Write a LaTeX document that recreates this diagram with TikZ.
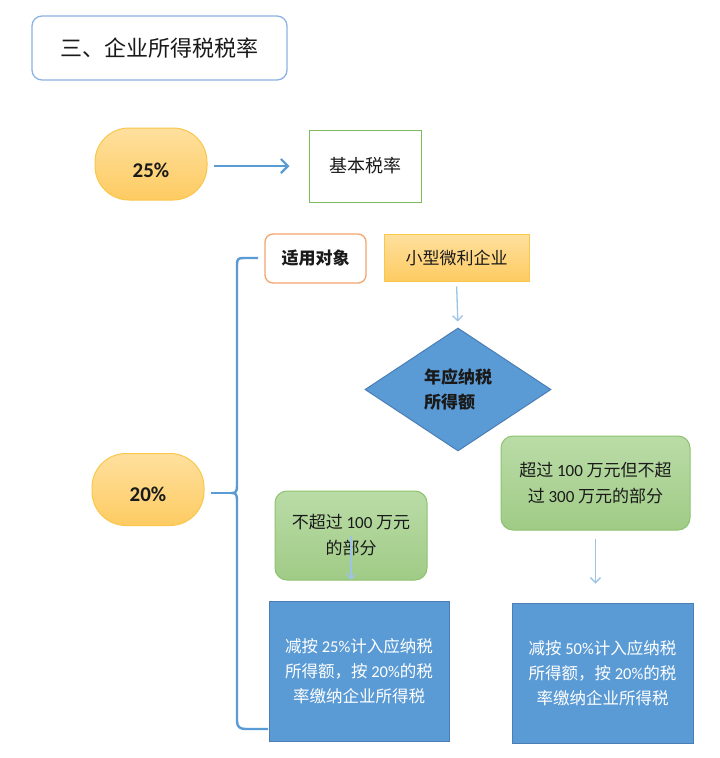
\documentclass[tikz,border=0pt]{standalone}
\usepackage{fontspec}
\setmainfont{Noto Sans CJK SC}
\newfontfamily\lat{Carlito}
\usetikzlibrary{shapes.geometric,arrows.meta}
\definecolor{lineblue}{HTML}{5B9BD5}
\definecolor{lightarrow}{HTML}{9DC3E6}
\definecolor{titleborder}{HTML}{8DB3E2}
\definecolor{pilltop}{HTML}{FFE09E}
\definecolor{pillbot}{HTML}{FDCB62}
\definecolor{pillborder}{HTML}{F9C74A}
\definecolor{basicborder}{HTML}{7FBA5A}
\definecolor{orangeborder}{HTML}{F4A46E}
\definecolor{greentop}{HTML}{BADCA7}
\definecolor{greenbot}{HTML}{A0CB86}
\definecolor{greenborder}{HTML}{8DC26F}
\definecolor{bluefill}{HTML}{5B9BD5}
\definecolor{blueborder}{HTML}{4A7EB5}
\definecolor{textdark}{HTML}{1A1A1A}
\newcommand{\lowertext}[2]{\raisebox{-#1}[\height][\depth]{#2}}
\tikzset{
  every node/.style={inner sep=0pt, text=textdark},
  titlebox/.style={draw=titleborder, line width=1.3pt, rounded corners=10pt, fill=white,
    minimum width=255pt, minimum height=64pt, font=\fontsize{22}{26}\selectfont},
  pill/.style={draw=pillborder, line width=1pt, rounded corners=34pt, top color=pilltop, bottom color=pillbot,
    minimum width=112pt, minimum height=72pt, font=\lat\bfseries\fontsize{21}{24}\selectfont},
  basicbox/.style={draw=basicborder, line width=1pt, fill=white, minimum width=112pt, minimum height=72pt,
    font=\fontsize{18}{22}\selectfont},
  targetbox/.style={draw=orangeborder, line width=1.3pt, rounded corners=8pt, fill=white,
    minimum width=101pt, minimum height=49pt, font=\bfseries\fontsize{17}{20}\selectfont},
  yellowbox/.style={draw=pillborder, line width=1pt, top color=pilltop, bottom color=pillbot,
    minimum width=145pt, minimum height=47pt, font=\fontsize{17}{20}\selectfont},
  decision/.style={diamond, draw=blueborder, line width=1pt, fill=bluefill, aspect=1.51,
    minimum width=186pt, minimum height=123pt, align=left, font=\bfseries\fontsize{17}{25}\selectfont},
  greenbox/.style={draw=greenborder, line width=1pt, rounded corners=12pt, top color=greentop, bottom color=greenbot,
    align=center, font=\fontsize{17}{26}\selectfont},
  resultbox/.style={draw=blueborder, line width=1pt, fill=bluefill, text=white, align=center,
    minimum width=180pt, minimum height=140pt, font=\fontsize{16.5}{25}\selectfont},
  mainarrow/.style={draw=lineblue, line width=2.2pt, -{Straight Barb[length=7pt,width=14pt,line width=2.2pt]}},
  thinarrow/.style={draw=lightarrow, line width=1.3pt, -{Straight Barb[length=5pt,width=10pt,line width=1.3pt]}},
  bracestyle/.style={draw=lineblue, line width=2.4pt}
}
\begin{document}
\begin{tikzpicture}[x=1pt,y=-1pt]
\useasboundingbox[fill=white] (0,0) rectangle (720,758);
\node[titlebox] (title) at (159.5,48) {三、企业所得税税率};
\node[pill] (p25) at (151,164) {\lowertext{6pt}{25\%}};
\node[basicbox] (basic) at (365,166) {基本税率};
\node[pill] (p20) at (148,489.5) {\lowertext{5pt}{20\%}};
\node[targetbox] (target) at (315.5,258.5) {适用对象};
\node[yellowbox] (small) at (456.5,257.5) {小型微利企业};
\node[decision] (dec) at (458,389.5) {年应纳税\\所得额};
\node[greenbox, minimum width=189pt, minimum height=94pt] (gr) at (595.5,483) {超过 {\lat 100} 万元但不超\\过 {\lat 300} 万元的部分};
\node[greenbox, minimum width=152pt, minimum height=89pt] (gl) at (351,535.5) {不超过 {\lat 100} 万元\\的部分};
\node[resultbox] (bl) at (359,671) {减按 {\lat 25\%}计入应纳税\\所得额，按 {\lat 20\%}的税\\率缴纳企业所得税};
\node[resultbox, minimum width=181pt] (br) at (602.5,673) {减按 {\lat 50\%}计入应纳税\\所得额，按 {\lat 20\%}的税\\率缴纳企业所得税};

\coordinate (bracetop) at (258,258);
\coordinate (bracebot) at (268,729);
\coordinate (bracetip) at (232,493);

\draw[mainarrow, shorten <=6pt, shorten >=19pt] (p25.east |- basic.west) -- (basic.west);
\draw[thinarrow, shorten <=5pt, shorten >=6pt] (small.south) -- (dec.north);
\draw[thinarrow, shorten <=8pt, shorten >=19pt] (gr.south) -- (gr.south |- br.north);
\draw[thinarrow, shorten >=21pt] (gl.center) -- (gl.center |- bl.north);

\draw[bracestyle] (bracetop) -- (244,258) .. controls (238,258) and (237,259) .. (237,265)
  -- (237,486) .. controls (237,491) and (236,493) .. (bracetip)
  .. controls (236,493) and (237,495) .. (237,500)
  -- (237,721) .. controls (237,727) and (240,729) .. (246,729) -- (bracebot);
\draw[bracestyle, shorten <=6pt] (p20.east |- bracetip) -- (bracetip);
\end{tikzpicture}
\end{document}
